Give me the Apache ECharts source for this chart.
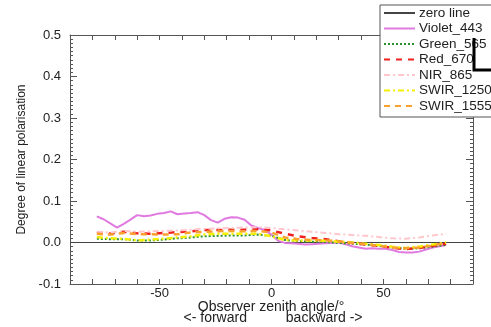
<!DOCTYPE html>
<html><head><meta charset="utf-8">
<script src="https://cdn.jsdelivr.net/npm/echarts@6/dist/echarts.min.js"></script>
<style>html,body{margin:0;padding:0;background:#fff}#c{width:491px;height:327px}</style>
</head><body><div id="c"></div>
<script>
// Observer zenith angle (deg)
var anglesFine = [-78,-75,-72,-69,-66,-63,-60,-57,-54,-51,-48,-45,-42,-39,-36,-33,-30,-27,-24,-21,-18,-15,-12,-9,-6,-3,0,3,6,9,12,15,18,21,24,27,30,33,36,39,42,45,48,51,54,57,60,63,66,69,72,75,78];
var violet443 = [0.063,0.056,0.046,0.036,0.045,0.055,0.066,0.063,0.065,0.069,0.071,0.075,0.068,0.070,0.071,0.073,0.066,0.054,0.048,0.057,0.061,0.060,0.055,0.041,0.035,0.030,0.019,0.004,-0.001,-0.002,-0.003,-0.005,-0.004,-0.003,-0.002,-0.001,0.000,-0.004,-0.009,-0.012,-0.015,-0.014,-0.015,-0.015,-0.018,-0.023,-0.024,-0.024,-0.022,-0.017,-0.012,-0.009,-0.006];

var angles = [-78,-72,-66,-60,-54,-48,-42,-36,-30,-24,-18,-12,-6,0,6,12,18,24,30,36,42,48,54,60,66,72,78];
var green565 = [0.009,0.008,0.008,0.005,0.005,0.007,0.010,0.012,0.015,0.016,0.017,0.017,0.019,0.016,0.006,0.003,0.002,0.001,-0.001,-0.003,-0.005,-0.008,-0.012,-0.015,-0.014,-0.010,-0.006];
var red670 = [0.025,0.021,0.026,0.022,0.021,0.023,0.025,0.027,0.030,0.030,0.031,0.031,0.032,0.029,0.021,0.015,0.011,0.008,0.003,-0.001,-0.005,-0.008,-0.013,-0.016,-0.013,-0.008,-0.003];
var nir865 = [0.026,0.024,0.028,0.026,0.027,0.028,0.029,0.031,0.033,0.034,0.035,0.036,0.037,0.035,0.032,0.029,0.026,0.023,0.020,0.018,0.016,0.013,0.010,0.009,0.012,0.017,0.021];
var swir1250 = [0.013,0.010,0.009,0.005,0.007,0.009,0.012,0.015,0.019,0.021,0.021,0.021,0.021,0.015,0.006,0.005,0.005,0.004,0.002,0.000,-0.003,-0.006,-0.010,-0.013,-0.010,-0.005,0.000];
var swir1555 = [0.021,0.019,0.023,0.020,0.020,0.019,0.020,0.024,0.026,0.027,0.028,0.027,0.028,0.024,0.012,0.008,0.006,0.005,0.003,-0.001,-0.004,-0.008,-0.012,-0.014,-0.012,-0.007,-0.001];
var zeroX = [-90, 90];
var zeroY = [0, 0];
var xTickLabels = [-50, 0, 50];
var seriesNames = ['zero line','Violet_443','Green_565','Red_670','NIR_865','SWIR_1250','SWIR_1555'];
var xTitleLines = ['Observer zenith angle/°', '<- forward          backward ->'];

function pairs(xs, ys){ return xs.map(function(x,i){return [x, ys[i]];}); }

var font = 'Liberation Sans, Arial, Helvetica, sans-serif';
var axisColor = '#555';
function mkSeries(name, xs, ys, color, type, width){
  return {name:name, type:'line', data:pairs(xs,ys), symbol:'none', showSymbol:false,
    lineStyle:{color:color, type:type, width:width}, itemStyle:{color:color}, silent:true, animation:false};
}

var chart = echarts.init(document.getElementById('c'), null, {renderer:'canvas'});
chart.setOption({
  backgroundColor:'#fff',
  animation:false,
  grid:{left:70, top:35, right:18, bottom:43, containLabel:false, outerBoundsMode:'none'},
  xAxis:[{
    type:'value', min:-90, max:90, interval:10,
    axisLine:{onZero:false, lineStyle:{color:axisColor, width:1}},
    axisTick:{inside:true, length:5, lineStyle:{color:axisColor}},
    splitLine:{show:false},
    axisLabel:{color:'#222', fontSize:13, fontFamily:font, margin:3,
      formatter:function(v){ return xTickLabels.indexOf(v) >= 0 ? String(v) : ''; }}
  },{
    type:'value', min:-90, max:90, interval:10, position:'top',
    axisLine:{onZero:false, lineStyle:{color:axisColor}},
    axisTick:{inside:true, length:5, lineStyle:{color:axisColor}},
    axisLabel:{show:false}, splitLine:{show:false}
  }],
  yAxis:[{
    type:'value', min:-0.1, max:0.5, interval:0.1,
    axisLine:{onZero:false, show:true, lineStyle:{color:axisColor}},
    axisTick:{show:true, inside:true, length:7, lineStyle:{color:axisColor}},
    minorTick:{show:true, splitNumber:10, length:3, lineStyle:{color:axisColor}},
    splitLine:{show:false},
    axisLabel:{color:'#222', fontSize:13, fontFamily:font, margin:9,
      formatter:function(v){ return v.toFixed(1); }},
    name:'Degree of linear polarisation', nameLocation:'middle', nameGap:42,
    nameTextStyle:{color:'#222', fontSize:12, fontFamily:font}
  },{
    type:'value', min:-0.1, max:0.5, interval:0.1, position:'right',
    axisLine:{onZero:false, show:true, lineStyle:{color:axisColor}},
    axisTick:{show:true, inside:true, length:7, lineStyle:{color:axisColor}},
    minorTick:{show:true, splitNumber:10, length:3, lineStyle:{color:axisColor}},
    axisLabel:{show:false}, splitLine:{show:false}
  }],
  legend:{
    orient:'vertical', left:380, top:5, padding:[1,6,4,3],
    backgroundColor:'#fff', borderColor:'#555', borderWidth:1, borderRadius:0,
    itemWidth:31, itemHeight:10, itemGap:1.5,
    itemStyle:{opacity:0},
    textStyle:{color:'#222', fontSize:13.5, fontFamily:font, lineHeight:14, padding:[0,0,0,-1]},
    data:seriesNames, selectedMode:false
  },
  series:[
    mkSeries('zero line', zeroX, zeroY, '#444', 'solid', 1),
    mkSeries('Violet_443', anglesFine, violet443, '#e07ae0', 'solid', 2),
    mkSeries('Green_565', angles, green565, '#2f8f2f', 'dotted', 2),
    mkSeries('Red_670', angles, red670, '#f02020', [6,6], 2.5),
    mkSeries('NIR_865', angles, nir865, '#ffc6cc', [6,3,2,3], 2),
    mkSeries('SWIR_1250', angles, swir1250, '#f4f000', [6,3,2,3], 2.5),
    mkSeries('SWIR_1555', angles, swir1555, '#f8a030', [6,5], 2.5)
  ],
  graphic:[{
    type:'polyline', z:100,
    shape:{points:[[474,38],[474,70],[491,70]]},
    style:{stroke:'#000', lineWidth:3, fill:null}
  },{
    type:'text', z:50,
    style:{text:xTitleLines[0], fill:'#222', font:'14px ' + font, textAlign:'center', textVerticalAlign:'middle'},
    position:[271, 307]
  },{
    type:'text', z:50,
    style:{text:xTitleLines[1], fill:'#222', font:'14px ' + font, textAlign:'center', textVerticalAlign:'middle'},
    position:[273, 318]
  }]
});
</script>
</body></html>
